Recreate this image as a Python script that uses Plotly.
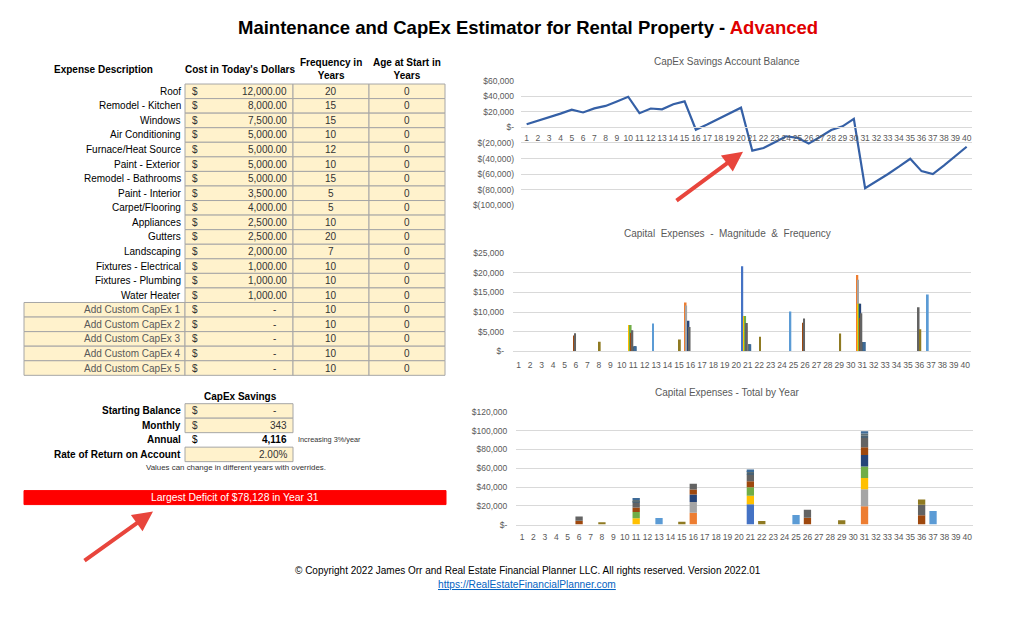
import plotly.graph_objects as go

W, H = 1024, 617
FONT = "Liberation Sans, Arial, sans-serif"

# ---------------- data ----------------
years = list(range(1, 41))

descriptions = ["Roof", "Remodel - Kitchen", "Windows", "Air Conditioning", "Furnace/Heat Source",
                "Paint - Exterior", "Remodel - Bathrooms", "Paint - Interior", "Carpet/Flooring",
                "Appliances", "Gutters", "Landscaping", "Fixtures - Electrical", "Fixtures - Plumbing",
                "Water Heater", "Add Custom CapEx 1", "Add Custom CapEx 2", "Add Custom CapEx 3",
                "Add Custom CapEx 4", "Add Custom CapEx 5"]
costs = [12000, 8000, 7500, 5000, 5000, 5000, 5000, 3500, 4000, 2500, 2500, 2000, 1000, 1000, 1000,
         0, 0, 0, 0, 0]
frequencies = [20, 15, 15, 10, 12, 10, 15, 5, 5, 10, 20, 7, 10, 10, 10, 10, 10, 10, 10, 10]
start_ages = [0, 0, 0, 0, 0, 0, 0, 0, 0, 0, 0, 0, 0, 0, 0, 0, 0, 0, 0, 0]

starting_balance = 0
monthly_savings = 343
annual_savings = 4116
return_rate = 0.02
largest_deficit = 78128
deficit_year = 31

balance = [4116, 8400, 12900, 17700, 22700, 19200, 24500, 27600, 33400, 39400,
           18200, 24300, 23200, 29700, 33500, -3000, 3600, 10500, 17700, 25300,
           -29900, -26500, -19100, -11400, -13400, -20800, -12300, -3400, 1400, 11100,
           -78128, -69400, -60200, -50500, -40300, -56200, -59900, -48800, -37200, -24900]

balance_ticks = [60000, 40000, 20000, 0, -20000, -40000, -60000, -80000, -100000]
magnitude_ticks = [0, 5000, 10000, 15000, 20000, 25000]
total_ticks = [0, 20000, 40000, 60000, 80000, 100000, 120000]

# expense events (year, amount) per item
roof_events = [(21, 21673)]
kitchen_events = [(16, 12464), (31, 19418)]
windows_events = [(16, 11685), (31, 18204)]
ac_events = [(11, 6720), (21, 9031), (31, 12136)]
furnace_events = [(13, 7129), (25, 10164), (37, 14492)]
paint_ext_events = [(11, 6720), (21, 9031), (31, 12136)]
bath_events = [(16, 7790), (31, 12136)]
paint_int_events = [(6, 4057), (11, 4704), (16, 5453), (21, 6321), (26, 7329), (31, 8495), (36, 9849)]
carpet_events = [(6, 4637), (11, 5376), (16, 6232), (21, 7224), (26, 8375), (31, 9709), (36, 11256)]
appliances_events = []
gutters_events = []
landscaping_events = [(8, 2460), (15, 3025), (22, 3721), (29, 4576), (36, 5628)]
elec_events = [(11, 1344), (21, 1806), (31, 2427)]
plumb_events = [(11, 1344), (21, 1806), (31, 2427)]
heater_events = [(11, 1344), (21, 1806), (31, 2427)]
custom1_events = []
custom2_events = []
custom3_events = []
custom4_events = []
custom5_events = []

series_events = [roof_events, kitchen_events, windows_events, ac_events, furnace_events,
                 paint_ext_events, bath_events, paint_int_events, carpet_events, appliances_events,
                 gutters_events, landscaping_events, elec_events, plumb_events, heater_events,
                 custom1_events, custom2_events, custom3_events, custom4_events, custom5_events]
series_colors = ["#4472C4", "#ED7D31", "#A5A5A5", "#FFC000", "#5B9BD5", "#70AD47", "#264478",
                 "#9E480E", "#636363", "#997300", "#255E91", "#8F7A22", "#4A6274", "#5E6E73",
                 "#3D6A97", "#FFCD33", "#7CAFDD", "#8CC168", "#335AA1", "#D26012"]


def acct(v):
    if v == 0:
        return "$-"
    if v < 0:
        return "$({:,.0f})".format(-v)
    return "${:,.0f}".format(v)


# page-pixel -> paper helpers (vertical mapping compensates the page capture)
VS, VO = 0.9848, 4.9


def fx(x):
    return x / W


def fy(y):
    return 1 - ((y - VO) / VS) / H


fig = go.Figure()

# ---------------- charts ----------------
fig.add_trace(go.Scatter(x=years, y=balance, mode="lines",
                         line=dict(color="#3560A6", width=2.2), xaxis="x", yaxis="y",
                         hoverinfo="skip"))

n_series = len(series_events)
thin_w = 0.16
running = {}
for i, (ev, col) in enumerate(zip(series_events, series_colors)):
    if not ev:
        continue
    xs = [e[0] for e in ev]
    ys = [e[1] for e in ev]
    off = -0.5 + (i + 0.5) / n_series - thin_w / 2
    fig.add_trace(go.Bar(x=xs, y=ys, offset=off, width=thin_w,
                         marker=dict(color=col, line=dict(width=0)),
                         xaxis="x2", yaxis="y2", hoverinfo="skip"))
    bases = [running.get(x, 0) for x in xs]
    fig.add_trace(go.Bar(x=xs, y=ys, base=bases, width=0.64,
                         marker=dict(color=col, line=dict(width=0)),
                         xaxis="x3", yaxis="y3", hoverinfo="skip"))
    for x, y in ev:
        running[x] = running.get(x, 0) + y

tick_font_x = dict(family=FONT, size=8.5, color="#595959")
tick_font_y = dict(family=FONT, size=8.5, color="#595959")
grid = "#D9D9D9"

fig.update_layout(
    xaxis=dict(domain=[fx(521), fx(972.3)], range=[0.5, 40.5], tickmode="array", tickvals=years,
               ticktext=[str(y) for y in years], anchor="free", position=fy(127.4), showgrid=False,
               zeroline=False, showline=True, linecolor=grid, ticks="", tickfont=tick_font_x,
               tickangle=0, ticklabelstandoff=2, fixedrange=True),
    yaxis=dict(domain=[fy(205.3), fy(80.7)], range=[-100000, 60000], tickmode="array",
               tickvals=balance_ticks, ticktext=[acct(v) for v in balance_ticks], showgrid=True,
               gridcolor=grid, zeroline=False, ticks="", tickfont=tick_font_y, anchor="x",
               ticklabelstandoff=6, fixedrange=True),
    xaxis2=dict(domain=[fx(513), fx(971)], range=[0.5, 40.5], tickmode="array", tickvals=years,
                ticktext=[str(y) for y in years], anchor="y2", showgrid=False, zeroline=False,
                showline=True, linecolor=grid, ticks="", tickfont=tick_font_x, tickangle=0,
                ticklabelstandoff=5, fixedrange=True),
    yaxis2=dict(domain=[fy(351.7), fy(253.3)], range=[0, 25000], tickmode="array",
                tickvals=magnitude_ticks, ticktext=[acct(v) for v in magnitude_ticks],
                showgrid=True, gridcolor=grid, zeroline=False, ticks="", tickfont=tick_font_y,
                anchor="x2", ticklabelstandoff=8, fixedrange=True),
    xaxis3=dict(domain=[fx(516.3), fx(973)], range=[0.5, 40.5], tickmode="array", tickvals=years,
                ticktext=[str(y) for y in years], anchor="y3", showgrid=False, zeroline=False,
                showline=True, linecolor=grid, ticks="", tickfont=tick_font_x, tickangle=0,
                ticklabelstandoff=4, fixedrange=True),
    yaxis3=dict(domain=[fy(525), fy(412.3)], range=[0, 120000], tickmode="array",
                tickvals=total_ticks, ticktext=[acct(v) for v in total_ticks],
                showgrid=True, gridcolor=grid, zeroline=False, ticks="", tickfont=tick_font_y,
                anchor="x3", ticklabelstandoff=8, fixedrange=True),
)

# ---------------- table (shapes + annotations) ----------------
shapes = []
ann = []
CELL = "#FFF2CC"
BORDER = "#A6A6A6"


def rect(x0, y0, x1, y1, fill=CELL, line=BORDER, lw=1):
    shapes.append(dict(type="rect", xref="paper", yref="paper", x0=fx(x0), x1=fx(x1),
                       y0=fy(y1), y1=fy(y0), fillcolor=fill, line=dict(color=line, width=lw),
                       layer="below"))


def text(x, y, s, size=10, color="#000000", anchor="center", bold=False, family=FONT):
    if bold:
        s = "<b>" + s + "</b>"
    ann.append(dict(x=fx(x), y=fy(y), xref="paper", yref="paper", text=s, showarrow=False,
                    xanchor=anchor, yanchor="middle", font=dict(family=family, size=size, color=color)))


# headers
text(103, 69, "Expense Description", bold=True)
text(240, 69, "Cost in Today's Dollars", bold=True)
text(331, 69, "Frequency in<br>Years", bold=True)
text(407, 69, "Age at Start in<br>Years", bold=True)

top = 84.0
rh = 14.58
for i, desc in enumerate(descriptions):
    y0 = top + i * rh
    y1 = y0 + rh
    yc = (y0 + y1) / 2
    custom = desc.startswith("Add Custom")
    if custom:
        rect(24, y0, 185, y1)
    rect(185, y0, 293, y1)
    rect(293, y0, 369, y1)
    rect(369, y0, 445, y1)
    text(183, yc, desc, color="#595959" if custom else "#000000", anchor="right")
    text(190, yc, "$", color="#333333", anchor="left")
    if costs[i]:
        text(289, yc, "{:,.2f}".format(costs[i]), color="#333333", anchor="right")
    else:
        text(274, yc, "-", color="#333333")
    text(331, yc, str(frequencies[i]), color="#333333")
    text(407, yc, str(start_ages[i]), color="#333333")

# CapEx savings block
text(240, 397, "CapEx Savings", bold=True)
rows_y = [411, 426, 440, 455]
rect(185, 404, 293, 418.5)
rect(185, 418.5, 293, 433)
rect(185, 447.5, 293, 462)
text(183, rows_y[0], "Starting Balance", anchor="right", bold=True)
text(190, rows_y[0], "$", color="#333333", anchor="left")
text(274, rows_y[0], "-" if starting_balance == 0 else "{:,.0f}".format(starting_balance),
     color="#333333")
text(183, rows_y[1], "Monthly", anchor="right", bold=True)
text(190, rows_y[1], "$", color="#333333", anchor="left")
text(289, rows_y[1], "{:,.0f}".format(monthly_savings), color="#333333", anchor="right")
text(183, rows_y[2], "Annual", anchor="right", bold=True)
text(190, rows_y[2], "$", anchor="left")
text(289, rows_y[2], "<b>{:,.0f}</b>".format(annual_savings), anchor="right")
text(296, rows_y[2], "Increasing 3%/year", size=7.3, color="#333333", anchor="left")
text(183, rows_y[3], "Rate of Return on Account", anchor="right", bold=True)
text(289, rows_y[3], "{:.2f}%".format(return_rate * 100), color="#333333", anchor="right")
text(236, 468, "Values can change in different years with overrides.", size=7.9, color="#333333")

# deficit bar
rect(24, 491, 446, 505, fill="#FF0000", line="#FF0000")
text(235, 498, "Largest Deficit of ${:,.0f} in Year {}".format(largest_deficit, deficit_year),
     size=10.4, color="#FFFFFF")

# titles
ann.append(dict(x=fx(528), y=fy(27.5), xref="paper", yref="paper", showarrow=False,
                xanchor="center", yanchor="middle",
                text="<b>Maintenance and CapEx Estimator for Rental Property - "
                     "<span style='color:#E00000'>Advanced</span></b>",
                font=dict(family=FONT, size=18.5, color="#000000")))
text(727, 61, "CapEx Savings Account Balance", size=10, color="#595959")
text(727, 234, "Capital  Expenses  -  Magnitude  &  Frequency", size=10, color="#595959")
text(727, 393, "Capital Expenses - Total by Year", size=10, color="#595959")

# footer
text(528, 571, "© Copyright 2022 James Orr and Real Estate Financial Planner LLC. All rights reserved. Version 2022.01",
     size=10)
text(527, 585, "<u>https://RealEstateFinancialPlanner.com</u>", size=10.2, color="#0563C1")

# arrows
for hx, hy, tx, ty in [(743, 151.7, 675, 201.7), (153, 512, 83, 562)]:
    ann.append(dict(x=fx(hx), y=fy(hy), xref="paper", yref="paper", text="", showarrow=True,
                    ax=tx - hx, ay=ty - hy, arrowhead=2, arrowsize=1, arrowwidth=4,
                    arrowcolor="#E8453C", standoff=0))

fig.update_layout(width=W, height=H, margin=dict(l=0, r=0, t=0, b=0), autosize=False,
                  paper_bgcolor="white", plot_bgcolor="white", showlegend=False,
                  barmode="overlay", shapes=shapes, annotations=ann,
                  font=dict(family=FONT))

fig.write_html("out.html", post_script="document.body.style.margin='0';",
               config={"displayModeBar": False})
